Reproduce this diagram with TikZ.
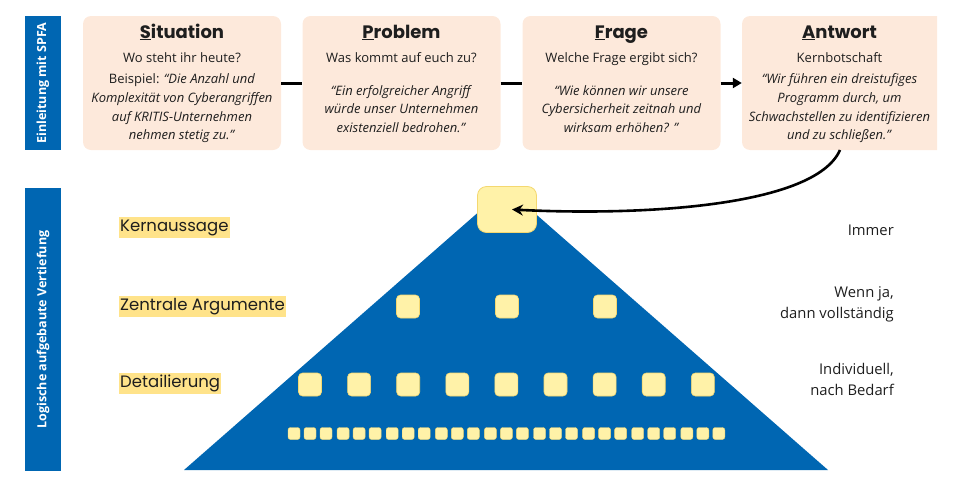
\documentclass[tikz,border=0pt]{standalone}
\usepackage{fontspec}
\setmainfont{Open Sans}
\newfontfamily\geo{Poppins}
\usetikzlibrary{arrows.meta,calc}
\definecolor{sfblue}{HTML}{0066B2}
\definecolor{peach}{HTML}{FDE9DB}
\definecolor{hl}{HTML}{FFE38A}
\definecolor{sqfill}{HTML}{FFF2A8}
\definecolor{sqdraw}{HTML}{F4D870}
\definecolor{txt}{HTML}{1E1E1E}
\begin{document}
\begin{tikzpicture}[x=1pt,y=-1pt,
  sbox/.style={fill=peach, rounded corners=8pt, minimum width=198pt, minimum height=134pt, inner sep=0pt},
  ttl/.style={font=\geo\bfseries\fontsize{18}{21}\selectfont, text=txt, anchor=base, inner sep=0pt},
  subt/.style={font=\fontsize{13}{15}\selectfont, text=txt, anchor=base, inner sep=0pt},
  bodyt/.style={font=\fontsize{13}{18.7}\selectfont, align=center, text=txt, inner sep=0pt},
  sidebar/.style={fill=sfblue, minimum width=36pt, inner sep=0pt},
  sidetext/.style={rotate=90, text=white, font=\bfseries\fontsize{12.5}{14}\selectfont, inner sep=0pt},
  conn/.style={line width=3pt, black},
  lvl/.style={fill=hl, font=\geo\fontsize{16.5}{18}\selectfont, text=txt, inner xsep=1pt, inner ysep=0pt, minimum height=21pt, anchor=west},
  rtxt/.style={font=\fontsize{14.8}{21}\selectfont, align=right, anchor=east, text=txt, inner sep=0pt},
  sqtop/.style={fill=sqfill, draw=sqdraw, line width=0.8pt, rounded corners=9pt, minimum width=59pt, minimum height=46pt, inner sep=0pt},
  sqmid/.style={fill=sqfill, draw=sqdraw, line width=0.6pt, rounded corners=4pt, minimum width=23pt, minimum height=23pt, inner sep=0pt},
  sqsm/.style={fill=sqfill, draw=sqdraw, line width=0.4pt, rounded corners=2.5pt, minimum width=12pt, minimum height=12pt, inner sep=0pt}
]
\useasboundingbox (0,0) rectangle (964,485);

% side bars
\node[sidebar, minimum height=134pt] (side1) at (43,83) {};
\node[sidetext] (side1t) at (side1.center) {Einleitung mit SPFA};
\node[sidebar, minimum height=283pt] (side2) at (43,329.5) {};
\node[sidetext] (side2t) at (side2.center) {Logische aufgebaute Vertiefung};

% SPFA boxes
\node[sbox] (s) at (182,83) {};
\node[sbox] (p) at (401.5,83) {};
\node[sbox] (f) at (621.5,83) {};
\begin{scope}
\clip (700,0) rectangle (937,200);
\node[sbox, minimum width=208pt] (a) at (846,83) {};
\end{scope}

\node[ttl] (st) at (182,38) {\underline{S}ituation};
\node[ttl] (pt) at (401.5,38) {\underline{P}roblem};
\node[ttl] (ft) at (621.5,38) {\underline{F}rage};
\node[ttl] (at) at (839.5,38) {\underline{A}ntwort};

\node[subt] (ss) at (182,62) {Wo steht ihr heute?};
\node[subt] (ps) at (401.5,62) {Was kommt auf euch zu?};
\node[subt] (fs) at (621.5,62) {Welche Frage ergibt sich?};
\node[subt] (as) at (839.5,62) {Kernbotschaft};

\node[bodyt] (sb) at (182,108.5) {Beispiel: \textit{“Die Anzahl und}\\\textit{Komplexität von Cyberangriffen}\\\textit{auf KRITIS-Unternehmen}\\\textit{nehmen stetig zu.”}};
\node[bodyt] (pb) at (401.5,109) {\textit{“Ein erfolgreicher Angriff}\\\textit{würde unser Unternehmen}\\\textit{existenziell bedrohen.”}};
\node[bodyt] (fb) at (621.5,109) {\textit{“Wie können wir unsere}\\\textit{Cybersicherheit zeitnah und}\\\textit{wirksam erhöhen? ”}};
\node[bodyt] (ab) at (839.5,108.5) {\textit{“Wir führen ein dreistufiges}\\\textit{Programm durch, um}\\\textit{Schwachstellen zu identifizieren}\\\textit{und zu schließen.”}};

\draw[conn] (s.east) -- (p.west);
\draw[conn] (p.east) -- (f.west);
\draw[conn, -{Triangle[length=9pt,width=10pt]}] (f.east) -- (a.west);

% pyramid
\fill[sfblue] (184,470) -- (506,188) -- (828,470) -- cycle;

\node[sqtop] (top) at (507,209.5) {};
\foreach \i/\x in {1/408,2/507,3/605}
  \node[sqmid] (m\i) at (\x,306.5) {};
\foreach \i in {0,...,8}{
  \pgfmathsetmacro{\cx}{310+49.1*\i}
  \node[sqmid] (d\i) at (\cx,384.5) {};
  \foreach \j in {-1,0,1}
    \node[sqsm] (b\i\j) at (\cx+16*\j,433.5) {};
}

% curved arrow
\coordinate (astart) at (840,150);
\coordinate (aend) at ($(top.center)+(5,0)$);
\draw[line width=2.6pt, -{Stealth[length=11pt,width=11pt]}] (astart) .. controls (815,207) and (640,216) .. (aend);

% level labels
\node[lvl] (l1) at (119,227.5) {Kernaussage};
\node[lvl] (l2) at (119,306.5) {Zentrale Argumente};
\node[lvl] (l3) at (119,383.5) {Detailierung};

\node[rtxt] (r1) at (894,230) {Immer};
\node[rtxt] (r2) at (894,304.5) {Wenn ja,\\dann vollständig};
\node[rtxt] (r3) at (894,379) {Individuell,\\nach Bedarf};
\end{tikzpicture}
\end{document}
